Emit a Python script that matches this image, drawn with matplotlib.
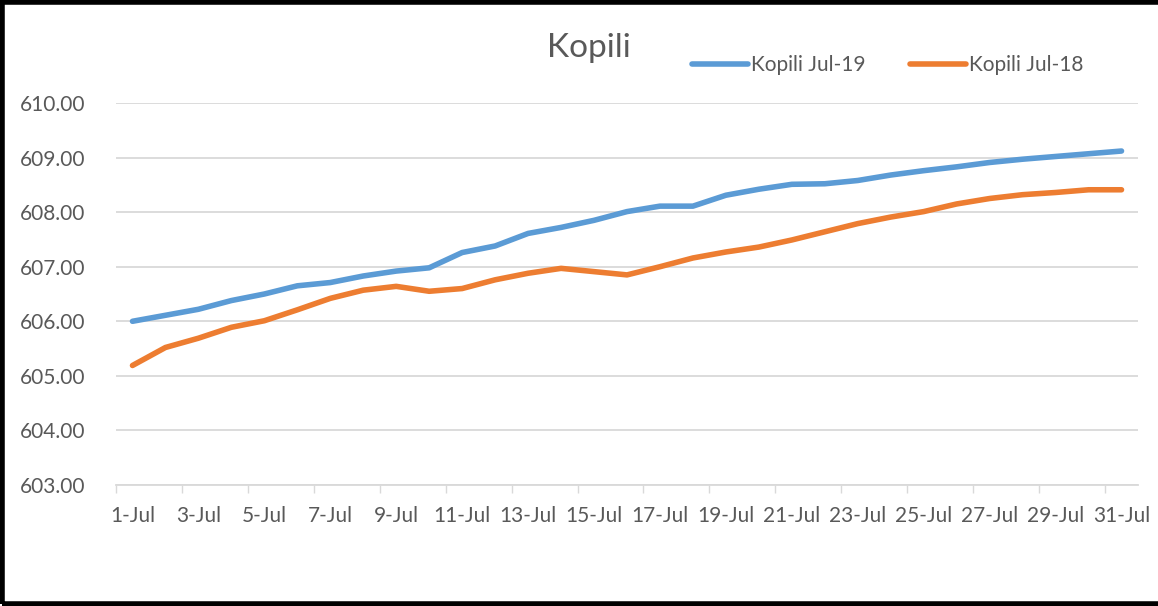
import numpy as np
import matplotlib
matplotlib.use("Agg")
import matplotlib.pyplot as plt
from matplotlib.patches import Rectangle

plt.rcParams['font.family'] = ['Lato', 'DejaVu Sans']

days = [f"{d}-Jul" for d in range(1, 32)]
jul19 = [606.00, 606.11, 606.22, 606.38, 606.50, 606.65, 606.71, 606.83, 606.92, 606.98,
         607.26, 607.38, 607.61, 607.72, 607.85, 608.01, 608.11, 608.11, 608.31, 608.42,
         608.51, 608.52, 608.58, 608.68, 608.76, 608.83, 608.91, 608.97, 609.02, 609.07,
         609.12]
jul18 = [605.19, 605.52, 605.69, 605.89, 606.01, 606.21, 606.42, 606.57, 606.64, 606.55,
         606.60, 606.76, 606.88, 606.97, 606.91, 606.85, 607.00, 607.16, 607.27, 607.36,
         607.49, 607.64, 607.79, 607.91, 608.01, 608.15, 608.25, 608.32, 608.36, 608.41,
         608.41]

grey = '#595959'
fig = plt.figure(figsize=(11.58, 6.06), dpi=100)
ax = fig.add_axes([116/1158, 1-485/606, (1138-116)/1158, (485-103)/606])

x = np.arange(len(days))
ax.plot(x, jul19, color='#5b9bd5', lw=4, solid_capstyle='round', solid_joinstyle='round', label='Kopili Jul-19')
ax.plot(x, jul18, color='#ed7d31', lw=4, solid_capstyle='round', solid_joinstyle='round', label='Kopili Jul-18')

ax.set_xlim(-0.5, len(days) - 0.5)
ax.set_ylim(603, 610)
ax.set_yticks(np.arange(603, 611, 1))
ax.set_yticklabels([f"{v:.2f}" for v in np.arange(603, 611, 1)])
ax.set_xticks(x[::2])
ax.set_xticklabels(days[::2])
ax.set_xticks(np.arange(-0.5, len(days) - 1, 2), minor=True)
ax.tick_params(axis='x', which='major', length=0, pad=15, labelsize=15, colors=grey)
ax.tick_params(axis='x', which='minor', length=6, color='#d9d9d9', width=1)
ax.tick_params(axis='y', length=0, pad=22, labelsize=15, colors=grey)
ax.grid(axis='y', color='#d9d9d9', lw=1.3)
ax.set_axisbelow(True)
for s in ['top', 'right', 'left']:
    ax.spines[s].set_visible(False)
ax.spines['bottom'].set_color('#d9d9d9')
ax.spines['bottom'].set_linewidth(1.3)

fig.text(589/1158, 1-48/606, 'Kopili', ha='center', va='center', fontsize=24, color=grey)
leg = fig.legend(loc='center left', bbox_to_anchor=(692/1158, 1-65/606), ncol=2, frameon=False,
                 fontsize=15, handlelength=2.7, handletextpad=0.15, columnspacing=2.1,
                 labelcolor=grey, borderaxespad=0, borderpad=0)

fig.patches.append(Rectangle((0.002, 0.004), 1.2, 0.992, transform=fig.transFigure,
                             fill=False, edgecolor='black', lw=4))

fig.savefig('out.png', dpi=100)
